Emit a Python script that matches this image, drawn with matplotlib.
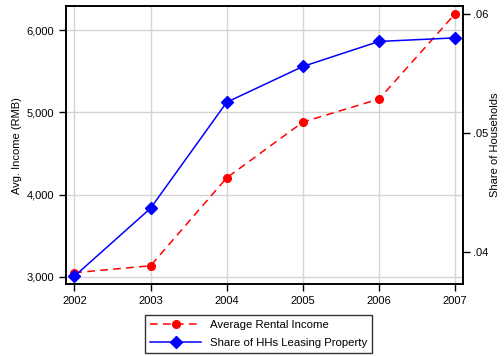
import matplotlib
matplotlib.use("Agg")
import matplotlib.pyplot as plt
from matplotlib.ticker import FuncFormatter

plt.rcParams['font.family'] = ['Liberation Sans', 'DejaVu Sans']

years = [2002, 2003, 2004, 2005, 2006, 2007]
rental_income = [3049, 3134, 4203, 4881, 5161, 6198]
share_leasing = [0.0380, 0.0437, 0.0526, 0.0556, 0.0577, 0.0580]

left_ticks = [3000, 4000, 5000, 6000]
right_ticks = [0.04, 0.05, 0.06]

fig = plt.figure(figsize=(5.04, 3.56), dpi=100)
ax = fig.add_axes([0.131, 0.202, 0.788, 0.781])
ax2 = ax.twinx()

red_line, = ax.plot(years, rental_income, color='#ff0000', linestyle=(0, (5, 3.5)),
                    linewidth=1.1, marker='o', markersize=5.5, zorder=3,
                    label='Average Rental Income')
blue_line, = ax2.plot(years, share_leasing, color='#0000ff', linestyle='-',
                      linewidth=1.1, marker='D', markersize=6, zorder=3,
                      label='Share of HHs Leasing Property')

ax.set_xlim(2001.89, 2007.105)
ax.set_ylim(2911, 6292)
ax2.set_ylim(0.03734, 0.06067)

ax.set_xticks(years)
ax.set_yticks(left_ticks)
ax2.set_yticks(right_ticks)
ax.yaxis.set_major_formatter(FuncFormatter(lambda v, p: f"{int(v):,}"))
ax2.yaxis.set_major_formatter(FuncFormatter(lambda v, p: f"{v:.2f}"[1:]))

ax.grid(True, color='#d4d4d4', linewidth=1.0)
ax.set_axisbelow(True)

for a in (ax, ax2):
    for s in a.spines.values():
        s.set_linewidth(1.2)
        s.set_color('black')
    a.tick_params(direction='out', length=5, width=1.0, labelsize=8, colors='black')
ax2.tick_params(axis='y', pad=2)

ax.set_ylabel('Avg. Income (RMB)', fontsize=8, labelpad=3)
ax2.set_ylabel('Share of Households', fontsize=8, labelpad=1)

leg = fig.legend(handles=[red_line, blue_line], loc='center',
                 bbox_to_anchor=(0.5135, 0.0625), ncol=1, fontsize=8.2,
                 frameon=True, fancybox=False, edgecolor='black',
                 handlelength=4.5, borderpad=0.42, labelspacing=0.7,
                 handletextpad=0.8)
leg.get_frame().set_linewidth(1.0)

fig.savefig('out.png', dpi=100)
